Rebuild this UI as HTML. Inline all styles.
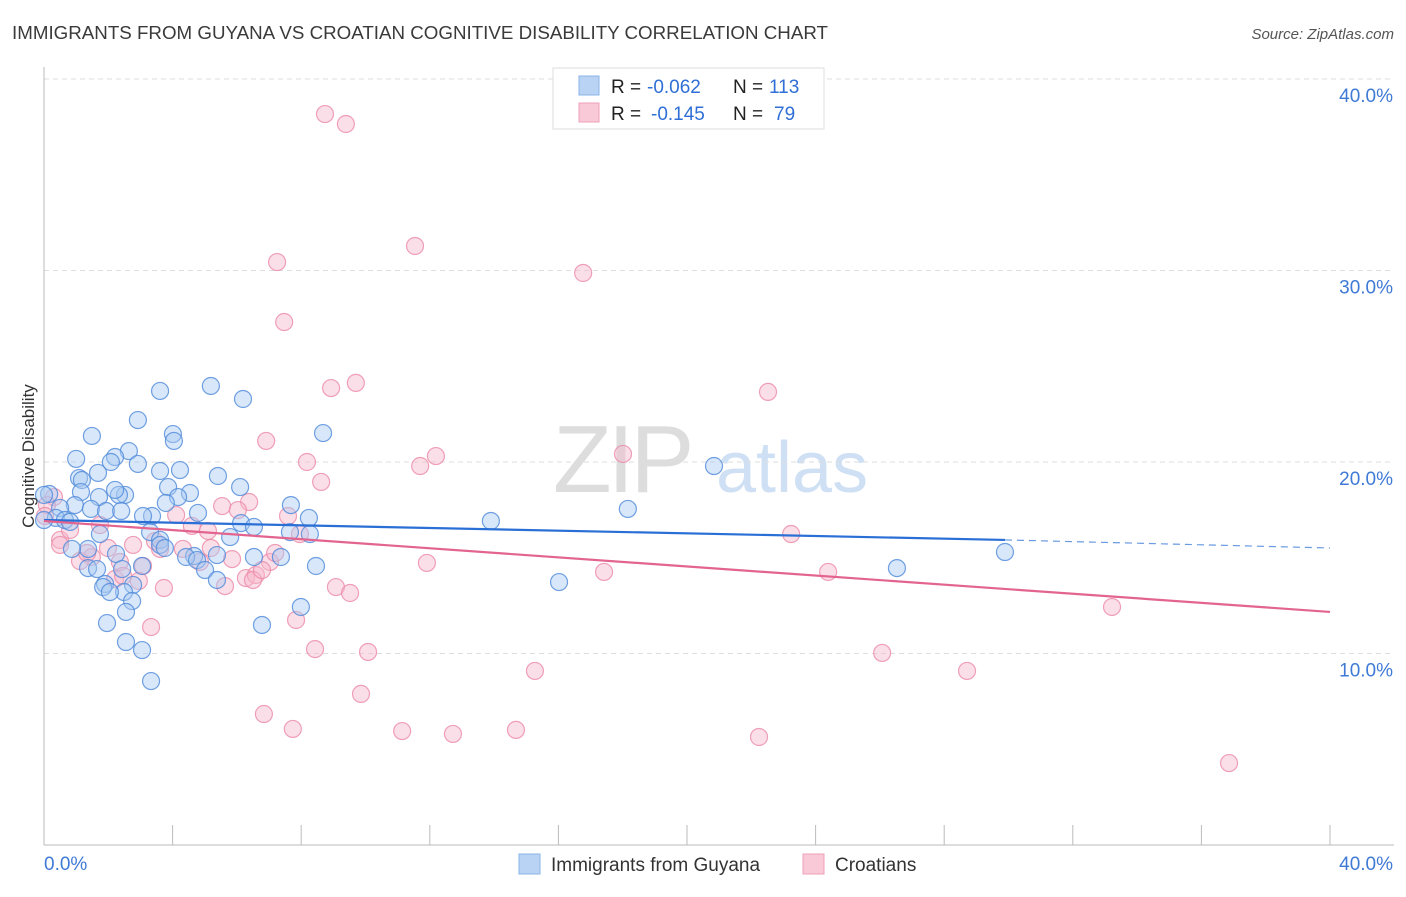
<!DOCTYPE html>
<html><head><meta charset="utf-8"><style>
body{margin:0;background:#fff;font-family:"Liberation Sans",sans-serif}
svg text{font-family:"Liberation Sans",sans-serif}
</style></head><body>
<svg id="chart" width="1406" height="892" viewBox="0 0 1406 892" xmlns="http://www.w3.org/2000/svg">
<text x="12" y="39" font-size="18" fill="#3a3a3a" textLength="816" lengthAdjust="spacingAndGlyphs">IMMIGRANTS FROM GUYANA VS CROATIAN COGNITIVE DISABILITY CORRELATION CHART</text>
<text x="1394" y="39" font-size="15" fill="#555" text-anchor="end" font-style="italic">Source: ZipAtlas.com</text>
<g>
<text x="553" y="492" font-size="96" fill="#ddd" font-family="Liberation Serif" letter-spacing="-4">ZIP</text>
<text x="716" y="492" font-size="72" fill="#cfe0f5">atlas</text>
</g>
<g id="grid"></g>
<g id="axes"></g>
<g id="pts"></g>
<g id="trends"></g>
<text transform="translate(34,456) rotate(-90)" font-size="17" fill="#333" text-anchor="middle">Cognitive Disability</text>
<g>
<rect x="553" y="68" width="271" height="61" fill="#fff" stroke="#ddd"/>
<rect x="579" y="76" width="20" height="19" fill="#b9d3f4" stroke="#8ab3e8"/>
<rect x="579" y="103" width="20" height="19" fill="#f9c9d7" stroke="#f0a0b8"/>
<text x="611" y="93" font-size="19" fill="#222">R =</text>
<text x="647" y="93" font-size="19" fill="#2f6fd6">-0.062</text>
<text x="733" y="93" font-size="19" fill="#222">N =</text>
<text x="769" y="93" font-size="19" fill="#2f6fd6">113</text>
<text x="611" y="120" font-size="19" fill="#222">R =</text>
<text x="651" y="120" font-size="19" fill="#2f6fd6">-0.145</text>
<text x="733" y="120" font-size="19" fill="#222">N =</text>
<text x="774" y="120" font-size="19" fill="#2f6fd6">79</text>
</g>
<g>
<rect x="519" y="854" width="21" height="20" fill="#b9d3f4" stroke="#8ab3e8"/>
<text x="551" y="871" font-size="19" fill="#333">Immigrants from Guyana</text>
<rect x="803" y="854" width="21" height="20" fill="#f9c9d7" stroke="#f0a0b8"/>
<text x="835" y="871" font-size="19" fill="#333">Croatians</text>
</g>
</svg>
<script>
const yTicks=[10,20,30,40];
const yTickLabels=["10.0%","20.0%","30.0%","40.0%"];
const xLabels=["0.0%","40.0%"];
const blueX=[3.61,5.19,6.19,2.92,4.01,4.04,1.49,8.68,2.64,1.0,2.21,2.08,2.92,3.61,4.23,1.68,1.09,1.18,5.41,3.86,6.1,2.52,1.71,2.33,2.21,1.15,4.54,4.17,3.79,3.36,3.08,0.96,0.5,1.46,1.93,2.4,4.79,6.13,6.53,5.79,7.68,8.24,8.27,7.65,0.16,0,0.37,0.65,0,0.81,1.74,3.3,3.61,3.61,1.37,0.87,2.24,4.67,5.38,6.53,7.37,3.76,4.42,4.76,5.01,3.05,1.37,1.65,2.43,1.9,1.84,5.38,8.46,2.77,2.49,2.05,2.74,2.55,7.99,1.96,6.78,2.55,3.05,3.33,13.9,18.16,20.84,16.02,26.53,29.89];
const blueY=[23.71,23.97,23.29,22.19,21.46,21.1,21.36,21.51,20.57,20.16,20.26,20.0,19.9,19.53,19.58,19.43,19.16,19.06,19.27,18.69,18.69,18.28,18.17,18.28,18.54,18.43,18.38,18.17,17.86,17.18,17.18,17.75,17.6,17.55,17.44,17.44,17.34,16.81,16.61,16.08,17.75,17.08,16.24,16.34,18.33,18.28,17.08,16.97,16.97,16.87,16.24,16.34,15.93,15.67,15.46,15.46,15.2,15.09,15.14,15.04,15.04,15.51,15.04,14.88,14.36,14.57,14.46,14.41,14.41,13.63,13.47,13.84,14.57,13.58,13.21,13.21,12.74,12.17,12.43,11.59,11.49,10.6,10.18,8.56,16.92,17.55,19.79,13.73,14.46,15.3];
const pinkX=[8.74,9.39,11.54,16.77,7.25,7.47,8.93,9.7,22.52,6.91,12.19,11.7,18.01,8.18,8.62,0.31,0.09,0.03,5.54,6.38,6.03,4.11,7.59,4.6,5.1,7.96,23.24,0.5,1.74,2.77,3.45,3.61,4.32,5.85,7.03,1.49,1.12,2.36,3.08,2.21,2.46,2.95,3.73,5.63,6.28,6.59,6.5,11.91,17.42,24.39,9.08,9.52,7.84,3.33,8.43,10.08,33.22,26.07,15.27,28.71,9.86,6.84,7.74,11.14,12.72,14.68,22.24,36.86,0.5,0.81,1.99,1.34,5.19,4.85,7.19,6.78];
const pinkY=[38.17,37.65,31.28,29.87,30.44,27.31,23.86,24.13,23.66,21.1,20.31,19.79,20.42,20.0,18.96,18.17,17.75,17.18,17.7,17.91,17.49,17.23,17.18,16.66,16.4,16.24,16.24,15.93,16.71,15.67,15.87,15.46,15.46,14.93,14.78,15.04,14.83,14.78,14.57,13.89,14.05,13.79,13.42,13.52,13.94,14.1,13.84,14.73,14.26,14.26,13.47,13.16,11.75,11.38,10.23,10.08,12.43,10.03,9.09,9.09,7.89,6.84,6.06,5.95,5.8,6.01,5.64,4.28,15.67,16.45,15.51,15.25,15.51,14.78,15.25,14.36];
const blueTrend=[[0,16.97],[29.89,15.93],[40,15.51]];
const pinkTrend=[[0,16.92],[40,12.17]];
const NS="http://www.w3.org/2000/svg";
const X0=44,X1=1330,Y0=845,PX=19.15;
function sx(v){return X0+(v/40)*(X1-X0);}
function sy(v){return Y0-v*PX;}
function mk(tag,attrs,parent){const e=document.createElementNS(NS,tag);for(const k in attrs)e.setAttribute(k,attrs[k]);parent.appendChild(e);return e;}
const grid=document.getElementById('grid'),axes=document.getElementById('axes'),pts=document.getElementById('pts'),tr=document.getElementById('trends');
yTicks.forEach((t,i)=>{
 const l=mk('line',{x1:X0,x2:1394,y1:sy(t),y2:sy(t),stroke:'#ddd','stroke-dasharray':'5,4'},grid);
 
 
 const tx=mk('text',{x:1393,y:sy(t)+23,'font-size':19,fill:'#3f7ad6','text-anchor':'end'},axes);
 tx.textContent=yTickLabels[i];
 
 
});
const ya=mk('line',{x1:X0,x2:X0,y1:67,y2:Y0,stroke:'#bbb'},axes);


const xa=mk('line',{x1:X0,x2:1394,y1:Y0,y2:Y0,stroke:'#bbb'},axes);


for(let i=0;i<=10;i++){const v=i*4;const t=mk('line',{x1:sx(v),x2:sx(v),y1:Y0,y2:Y0-20,stroke:'#bbb'},axes);
 
 }
[[0,'start',44],[40,'end',1393]].forEach((d,i)=>{const t=mk('text',{x:d[2],y:870,'font-size':19,fill:'#3f7ad6','text-anchor':d[1]},axes);t.textContent=xLabels[i];
 
 });
function dots(xs,ys,fill,stroke,name){xs.forEach((x,i)=>{const c=mk('circle',{cx:sx(x),cy:sy(ys[i]),r:8.5,fill:fill,'fill-opacity':0.45,stroke:stroke,'stroke-width':1.2,'stroke-opacity':0.8},pts);
 
 });}
dots(pinkX,pinkY,'#f7b8cb','#eb8aa8','croatians-point');
dots(blueX,blueY,'#a9c9f1','#4f8ad9','guyana-point');
const b1=mk('line',{x1:sx(blueTrend[0][0]),y1:sy(blueTrend[0][1]),x2:sx(blueTrend[1][0]),y2:sy(blueTrend[1][1]),stroke:'#2a6fd6','stroke-width':2.2},tr);


const b2=mk('line',{x1:sx(blueTrend[1][0]),y1:sy(blueTrend[1][1]),x2:sx(blueTrend[2][0]),y2:sy(blueTrend[2][1]),stroke:'#2a6fd6','stroke-width':1.2,'stroke-dasharray':'7,5','stroke-opacity':0.7},tr);


const p1=mk('line',{x1:sx(pinkTrend[0][0]),y1:sy(pinkTrend[0][1]),x2:sx(pinkTrend[1][0]),y2:sy(pinkTrend[1][1]),stroke:'#e2648f','stroke-width':2.2},tr);


</script>
</body></html>
